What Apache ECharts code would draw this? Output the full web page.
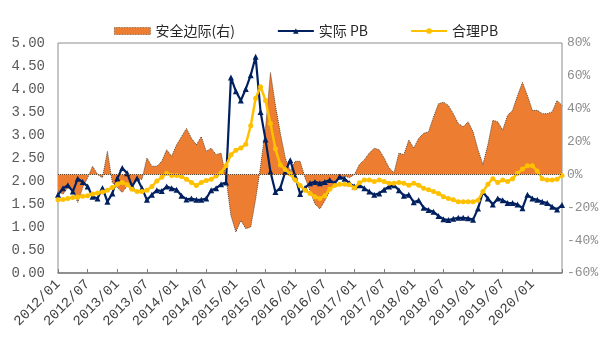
<!DOCTYPE html>
<html>
<head>
<meta charset="utf-8">
<script src="https://cdn.jsdelivr.net/npm/echarts@6/dist/echarts.min.js"></script>
<style>
html,body{margin:0;padding:0;background:#fff;}
#chart{width:615px;height:360px;}
</style>
</head>
<body>
<div id="chart"></div>
<script>
// Months 2012/01 .. 2020/07
const startYear = 2012, endYear = 2020, endMonth = 7;
const categories = [];
for (let y = startYear; y <= endYear; y++) {
  for (let m = 1; m <= 12; m++) {
    if (y === endYear && m > endMonth) break;
    categories.push(y + '/' + (m < 10 ? '0' + m : m));
  }
}

const seriesNames = ['安全边际(右)', '实际 PB', '合理PB'];

// 安全边际 (%), right axis
const marginPct = [
 -10,-12,-8,-10,-17,-8,-2,5,0,-2,14,-5,
 -8,-11,-7,-6,-3,-3,10,5,5,8,15,11,
 18,23,28,22,18,23,14,16,12,13,-2,-25,
 -35,-28,-33,-32,-15,5,28,62,42,25,10,2,
 8,8,-2,-10,-18,-21,-16,-10,-5,-2,-1,-2,
 0,6,9,13,16,15,10,4,1,13,12,21,
 16,22,25,26,35,43,44,42,37,31,29,32,
 26,15,6,18,33,32,27,36,39,48,56,48,
 39,39,37,37,38,45,42
];

// 实际 PB, left axis
const actualPB = [
 1.70,1.84,1.91,1.77,2.05,1.98,1.88,1.66,1.62,1.85,1.55,1.73,
 2.06,2.28,2.17,1.88,2.06,1.84,1.59,1.70,1.80,1.78,1.88,1.84,
 1.81,1.68,1.60,1.62,1.59,1.59,1.62,1.80,1.84,1.93,1.97,4.25,
 3.95,3.75,4.00,4.30,4.70,3.50,2.90,2.20,1.76,1.85,2.20,2.45,
 2.10,1.72,1.85,1.95,1.98,1.95,1.98,2.02,1.95,2.09,2.05,1.95,
 1.88,1.91,1.84,1.77,1.70,1.73,1.81,1.88,1.91,1.80,1.68,1.70,
 1.54,1.58,1.42,1.37,1.33,1.24,1.17,1.15,1.18,1.20,1.20,1.19,
 1.16,1.40,1.76,1.62,1.49,1.62,1.58,1.52,1.52,1.49,1.41,1.70,
 1.62,1.59,1.55,1.52,1.44,1.38,1.48
];

// 合理PB, left axis
const fairPB = [
 1.59,1.60,1.62,1.64,1.65,1.67,1.68,1.72,1.74,1.76,1.80,1.86,
 1.93,1.97,1.92,1.82,1.77,1.77,1.80,1.88,2.00,2.08,2.17,2.12,
 2.12,2.10,2.04,1.97,1.90,1.97,2.01,2.04,2.11,2.18,2.33,2.57,
 2.67,2.72,2.80,3.20,3.80,4.05,3.75,3.25,2.70,2.35,2.25,2.15,
 2.02,1.90,1.80,1.73,1.66,1.62,1.68,1.82,1.90,1.93,1.93,1.92,
 1.85,1.96,2.02,2.02,1.99,2.02,1.99,1.95,1.95,1.97,1.95,1.91,
 1.95,1.91,1.84,1.81,1.77,1.73,1.66,1.62,1.59,1.55,1.55,1.55,
 1.55,1.58,1.77,1.93,2.05,1.97,2.02,1.99,2.05,2.17,2.26,2.33,
 2.33,2.22,2.05,2.02,2.02,2.04,2.12
];

const chart = echarts.init(document.getElementById('chart'), null, {renderer: 'canvas'});
const monoFont = '"Liberation Mono", "DejaVu Sans Mono", monospace';
const cjkFont = '"Noto Sans CJK SC", "Noto Sans", sans-serif';

chart.setOption({
  animation: false,
  backgroundColor: '#ffffff',
  legend: {
    top: 19,
    left: 109,
    itemGap: 42,
    itemWidth: 36,
    itemHeight: 7,
    textStyle: {fontFamily: cjkFont, fontSize: 14, color: '#262626'},
    data: [
      {name: seriesNames[0], icon: 'rect', itemStyle: {color: '#ED7D31', borderColor: '#6b4a2a', borderWidth: 0.8, borderType: 'dotted'}},
      {name: seriesNames[1]},
      {name: seriesNames[2]}
    ]
  },
  grid: {
    left: 58, right: 53, top: 43, bottom: 87,
    show: true, borderColor: '#8c8c8c', borderWidth: 1
  },
  xAxis: {
    type: 'category',
    data: categories,
    boundaryGap: false,
    axisLine: {show: true, lineStyle: {color: '#7f7f7f', width: 1.5}},
    axisTick: {show: true, inside: true, length: 4, interval: function (i) { return i % 6 === 0; }, lineStyle: {color: '#7f7f7f'}},
    axisLabel: {
      rotate: 45, interval: function (i) { return i % 6 === 0 && i < categories.length - 1; },
      fontFamily: monoFont, fontSize: 14, color: '#404040', margin: 9
    },
    splitLine: {show: false}
  },
  yAxis: [
    {
      type: 'value', min: 0, max: 5, interval: 0.5,
      axisLine: {show: false}, axisTick: {show: false}, splitLine: {show: false},
      axisLabel: {formatter: function (v) { return v.toFixed(2); }, fontFamily: monoFont, fontSize: 14, color: '#595959', margin: 13}
    },
    {
      type: 'value', min: -60, max: 80, interval: 20,
      axisLine: {show: false}, axisTick: {show: false}, splitLine: {show: false},
      axisLabel: {formatter: '{value}%', fontFamily: monoFont, fontSize: 13, color: '#8c8c8c', margin: 5}
    }
  ],
  series: [
    {
      name: seriesNames[0], type: 'line', yAxisIndex: 1, data: marginPct,
      symbol: 'none', z: 1,
      lineStyle: {color: '#5a4632', width: 1, type: 'dotted'},
      itemStyle: {color: '#ED7D31'},
      areaStyle: {color: '#ED7D31', opacity: 1, origin: 'auto'},
      markLine: {
        silent: true, symbol: 'none', label: {show: false},
        lineStyle: {color: '#5a4632', width: 1, type: 'dotted'},
        data: [{yAxis: 0}]
      }
    },
    {
      name: seriesNames[1], type: 'line', yAxisIndex: 0, data: actualPB,
      symbol: 'triangle', symbolSize: 6, showAllSymbol: true, z: 3,
      lineStyle: {color: '#002060', width: 2.2},
      itemStyle: {color: '#002060'}
    },
    {
      name: seriesNames[2], type: 'line', yAxisIndex: 0, data: fairPB,
      symbol: 'circle', symbolSize: 5, showAllSymbol: true, z: 4,
      lineStyle: {color: '#FFC000', width: 2.5},
      itemStyle: {color: '#FFC000'}
    }
  ]
});
</script>
</body>
</html>
